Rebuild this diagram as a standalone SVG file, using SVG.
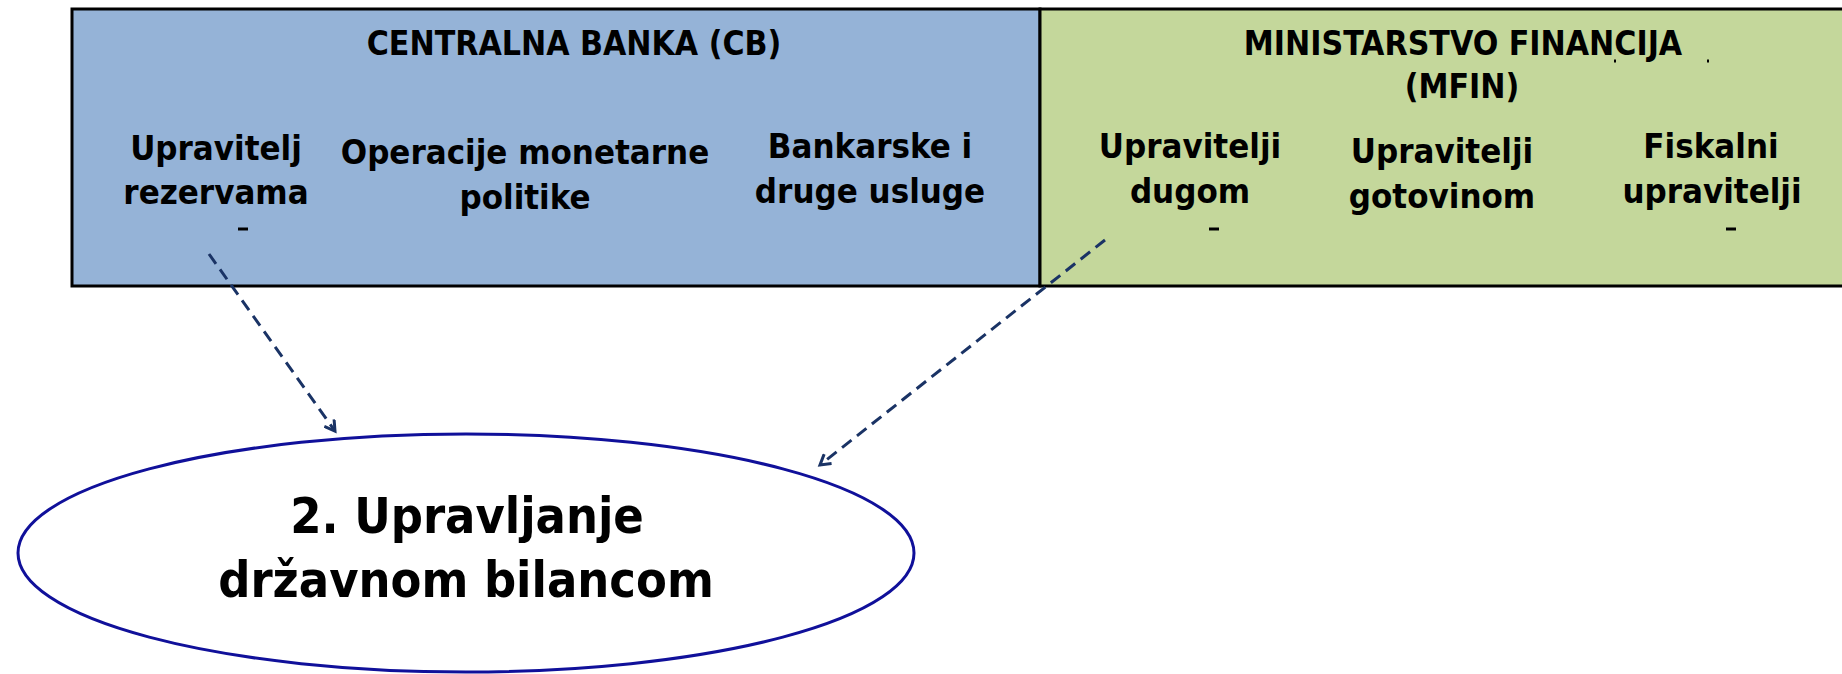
<svg xmlns="http://www.w3.org/2000/svg" width="1842" height="674" viewBox="0 0 1842 674">
<style>
.box{stroke:#000;stroke-width:3}
.t{font-family:"DejaVu Sans Condensed","DejaVu Sans",sans-serif;font-stretch:condensed;font-weight:bold;fill:#000;text-anchor:middle}
.h{font-size:33.5px}
.b{font-size:34.5px}
.e{font-size:50px}
.conn{fill:none;stroke:#1A3365;stroke-width:3;stroke-dasharray:12,7}
.mark{stroke:#000;stroke-width:3}
</style>
<defs>
<marker id="arr" markerWidth="14" markerHeight="14" refX="11" refY="7" orient="auto" markerUnits="userSpaceOnUse">
<polyline points="1,1 11,7 1,13" fill="none" stroke="#1A3365" stroke-width="3"/>
</marker>
</defs>
<rect width="1842" height="674" fill="#fff"/>
<g id="cb">
<rect class="box" x="72" y="9" width="968" height="277" fill="#95B3D7"/>
<text class="t h" x="574" y="55">CENTRALNA BANKA (CB)</text>
<text class="t b" x="216" y="160">Upravitelj</text>
<text class="t b" x="216" y="204">rezervama</text>
<text class="t b" x="525" y="164">Operacije monetarne</text>
<text class="t b" x="525" y="209">politike</text>
<text class="t b" x="870" y="158">Bankarske i</text>
<text class="t b" x="870" y="203">druge usluge</text>
<line class="mark" x1="238" y1="229" x2="248" y2="229"/>
</g>
<g id="mfin">
<rect class="box" x="1040" y="9" width="810" height="277" fill="#C4D79B"/>
<text class="t h" x="1463" y="55">MINISTARSTVO FINANCIJA</text>
<text class="t h" x="1462" y="98">(MFIN)</text>
<text class="t b" x="1190" y="158">Upravitelji</text>
<text class="t b" x="1190" y="203">dugom</text>
<text class="t b" x="1442" y="163">Upravitelji</text>
<text class="t b" x="1442" y="208">gotovinom</text>
<text class="t b" x="1711" y="158">Fiskalni</text>
<text class="t b" x="1712" y="203">upravitelji</text>
<line class="mark" x1="1209" y1="229" x2="1219" y2="229"/>
<line class="mark" x1="1726" y1="229" x2="1736" y2="229"/>
<line class="mark" x1="1614" y1="61" x2="1616" y2="61"/>
<line class="mark" x1="1707" y1="61" x2="1709" y2="61"/>
</g>
<g id="balance">
<ellipse cx="466" cy="553" rx="448" ry="119" fill="#fff" stroke="#10109A" stroke-width="3"/>
<text class="t e" x="467" y="533">2. Upravljanje</text>
<text class="t e" x="466" y="597">državnom bilancom</text>
</g>
<g id="connectors">
<line class="conn" x1="209" y1="254" x2="335" y2="431" marker-end="url(#arr)"/>
<line class="conn" x1="1105" y1="240" x2="820" y2="465" marker-end="url(#arr)"/>
</g>
</svg>
